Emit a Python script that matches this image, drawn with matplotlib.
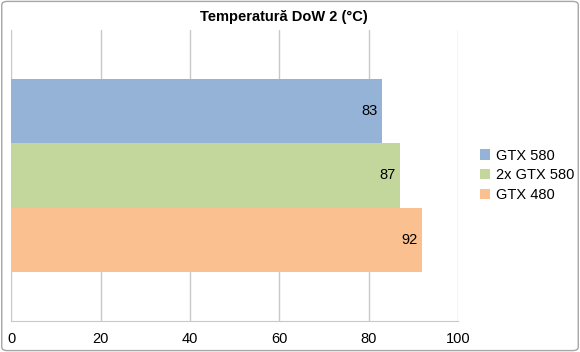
import numpy as np
import matplotlib
matplotlib.use('Agg')
import matplotlib.pyplot as plt
from matplotlib.patches import FancyBboxPatch

#######################################################
Title       = 'Temperatură DoW 2 (°C)'
Series      = ['GTX 580', '2x GTX 580', 'GTX 480']
Values      = [83, 87, 92]
Colors      = ['#95B3D7', '#C3D69B', '#FAC090']
X_Ticks     = [0, 20, 40, 60, 80, 100]
#######################################################

plt.rcParams['font.family'] = ['Liberation Sans', 'DejaVu Sans']

fig = plt.figure(figsize=(5.8, 3.52), dpi=100)
ax = fig.add_axes([0.0198, 0.088, 0.770, 0.827])

Bar_Height = 0.2216
Offsets = (np.arange(len(Series)) - 1) * Bar_Height
for name, val, col, off in zip(Series, Values, Colors, Offsets):
    ax.barh(off, val, height=Bar_Height, color=col, label=name, zorder=2)
    ax.text(val - 1.0, off, str(val), ha='right', va='center', fontsize=10.5, color='black', zorder=3)

ax.set_ylim(0.5, -0.5)
ax.set_xlim(0, 100)
ax.set_xticks(X_Ticks)
ax.set_yticks([])
ax.tick_params(axis='x', length=0, labelsize=10.5, pad=8)
ax.grid(axis='x', color='#C8C8C8', linewidth=1.0, zorder=0)
for side in ['top', 'right', 'left']:
    ax.spines[side].set_visible(False)
ax.spines['bottom'].set_color('#C8C8C8')

fig.suptitle(Title, x=0.49, y=0.972, fontsize=10.5, fontweight='bold', va='top')

ax.legend(loc='center left', bbox_to_anchor=(1.02, 0.5), frameon=False, fontsize=10.5,
          handlelength=0.7, handleheight=0.7, handletextpad=0.4, labelspacing=0.4)

fig.patches.append(FancyBboxPatch((0.003, 0.004), 0.994, 0.992, boxstyle='round,pad=0,rounding_size=0.01',
                                  transform=fig.transFigure, fill=False, edgecolor='#A6A6A6', linewidth=1.0))

fig.savefig('out.png', dpi=100)
